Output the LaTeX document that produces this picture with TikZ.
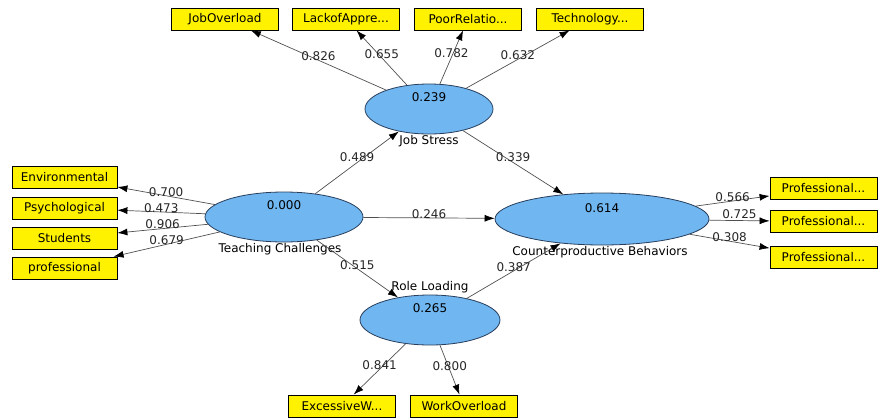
\documentclass[tikz,border=0pt]{standalone}
\usepackage{fontspec}
\setmainfont{DejaVu Sans}
\usetikzlibrary{shapes.geometric, arrows.meta, positioning}
\definecolor{latfill}{RGB}{112,182,240}
\definecolor{latline}{RGB}{40,62,92}
\definecolor{wire}{RGB}{80,80,80}
\tikzstyle{latent} = [ellipse, draw=latline, fill=latfill, line width=0.8pt, inner sep=0pt]
\tikzstyle{indicator} = [rectangle, draw=black, fill=yellow, minimum width=107pt, minimum height=22pt, inner sep=1pt, line width=0.8pt]
\tikzstyle{arrow} = [draw=wire, line width=0.7pt, -{Latex[length=10pt,width=7pt,color=black]}]
\tikzstyle{coef} = [midway, yshift=4pt, inner sep=0pt, text=black!85]

\begin{document}
\begin{tikzpicture}[x=1pt, y=-1pt, font=\fontsize{12}{14}\selectfont]
    \useasboundingbox (0,0) rectangle (886,418);
    % latent variables
    \node (stress) [latent, minimum width=128pt, minimum height=50pt,
        label={[anchor=center,yshift=-14pt]north:0.239},
        label={[anchor=center,yshift=-7pt]south:Job Stress}] at (429,109) {};
    \node (challenges) [latent, minimum width=158pt, minimum height=50pt,
        label={[anchor=center,yshift=-14pt]north:0.000},
        label={[anchor=center,yshift=-7pt,xshift=-4pt]south:Teaching Challenges}] at (284,217) {};
    \node (behaviors) [latent, minimum width=214pt, minimum height=52pt,
        label={[anchor=center,yshift=-16pt]north:0.614},
        label={[anchor=center,yshift=-7pt,xshift=-2pt]south:Counterproductive Behaviors}] at (602,219) {};
    \node (loading) [latent, minimum width=140pt, minimum height=50pt,
        label={[anchor=center,yshift=-14pt]north:0.265},
        label={[anchor=center,yshift=7pt]north:Role Loading}] at (430,320) {};
    % indicators
    \node (jobover) [indicator] at (225,19) {JobOverload};
    \node (lackof) [indicator] at (346,19) {LackofAppre...};
    \node (poorrel) [indicator] at (468,19) {PoorRelatio...};
    \node (techno) [indicator] at (590,19) {Technology...};
    \node (environ) [indicator, minimum width=105pt] at (64.5,177.5) {Environmental};
    \node (psycho) [indicator, minimum width=105pt] at (64.5,208) {Psychological};
    \node (students) [indicator, minimum width=105pt] at (64.5,238) {Students};
    \node (profess) [indicator, minimum width=105pt] at (64.5,268) {professional};
    \node (profa) [indicator] at (823.5,188.5) {Professional...};
    \node (profb) [indicator] at (823.5,221.5) {Professional...};
    \node (profc) [indicator] at (823.5,257.5) {Professional...};
    \node (excess) [indicator] at (342,406) {ExcessiveW...};
    \node (workover) [indicator] at (464,406) {WorkOverload};
    % loadings
    \draw [arrow] (stress) -- node[coef] {0.826} (jobover);
    \draw [arrow] (stress) -- node[coef] {0.655} (lackof);
    \draw [arrow] (stress) -- node[coef] {0.782} (poorrel);
    \draw [arrow] (stress) -- node[coef] {0.632} (techno);
    \draw [arrow] (challenges) -- node[coef] {0.700} (environ);
    \draw [arrow] (challenges) -- node[coef] {0.473} (psycho);
    \draw [arrow] (challenges) -- node[coef] {0.906} (students);
    \draw [arrow] (challenges) -- node[coef] {0.679} (profess);
    \draw [arrow] (behaviors) -- node[coef] {0.566} (profa);
    \draw [arrow] (behaviors) -- node[coef, yshift=2pt] {0.725} (profb);
    \draw [arrow] (behaviors) -- node[coef] {0.308} (profc);
    \draw [arrow] (loading) -- node[coef] {0.841} (excess);
    \draw [arrow] (loading) -- node[coef] {0.800} (workover);
    % paths
    \draw [arrow] (challenges) -- node[coef, yshift=1pt] {0.489} (stress);
    \draw [arrow] (stress) -- node[coef, yshift=1pt] {0.339} (behaviors);
    \draw [arrow] (challenges) -- node[coef] {0.246} (behaviors);
    \draw [arrow] (challenges) -- node[coef] {0.515} (loading);
    \draw [arrow] (loading) -- node[coef] {0.387} (behaviors);
\end{tikzpicture}
\end{document}
